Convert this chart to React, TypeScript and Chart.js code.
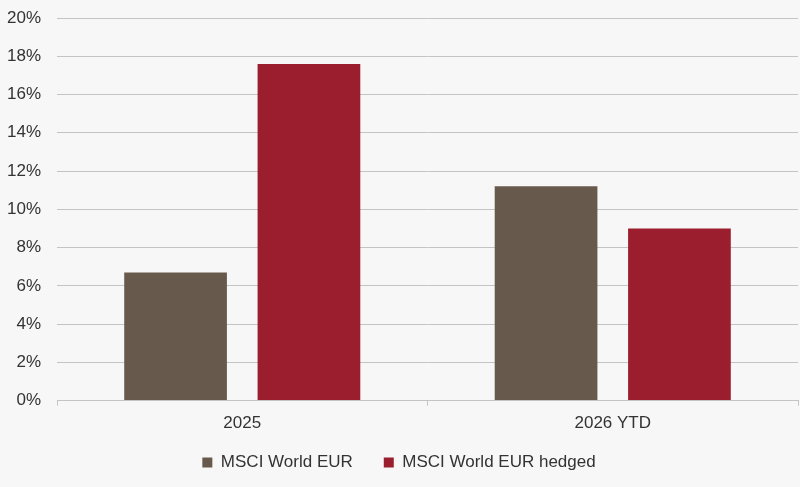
import React, { useEffect, useRef } from "react";
import { Chart, registerables } from "chart.js";

Chart.register(...registerables);

const categories = ["2025", "2026 YTD"];
const worldEur = [6.7, 11.2];
const worldEurHedged = [17.6, 9.0];
const seriesNames = ["MSCI World EUR", "MSCI World EUR hedged"];

const textColor = "#333333";
const gridColor = "#c4c4c4";
const fontFamily = "'Liberation Sans', Arial, sans-serif";
const fontSize = 17;
const legendPadding = 31;

// the legend padding sets the gap between items, but it also pads the box
// vertically; reserve less room and pull the legend back up so the x labels fit
const legendSqueeze = {
  id: "legendSqueeze",
  afterLayout(chart: Chart) {
    const legend = chart.legend;
    if (!legend) return;
    legend.top = legend.bottom - (fontSize + legendPadding + 10);
  },
};

export default function App() {
  const canvasRef = useRef<HTMLCanvasElement | null>(null);
  const chartRef = useRef<Chart | null>(null);

  useEffect(() => {
    document.body.style.margin = "0";
    if (!canvasRef.current) return;

    chartRef.current = new Chart(canvasRef.current, {
      type: "bar",
      data: {
        labels: categories,
        datasets: [
          {
            label: seriesNames[0],
            data: worldEur,
            backgroundColor: "#675a4c",
          },
          {
            label: seriesNames[1],
            data: worldEurHedged,
            backgroundColor: "#9b1e2f",
          },
        ],
      },
      plugins: [legendSqueeze],
      options: {
        animation: false,
        responsive: true,
        maintainAspectRatio: false,
        layout: { padding: { top: 0, left: 0, right: 2, bottom: 6 } },
        datasets: {
          bar: { barPercentage: 0.77, categoryPercentage: 0.72 },
        },
        plugins: {
          tooltip: { enabled: false },
          legend: {
            position: "bottom",
            maxHeight: 39,
            labels: {
              boxWidth: 10,
              boxHeight: 10,
              padding: legendPadding,
              color: textColor,
              font: { family: fontFamily, size: fontSize },
            },
          },
        },
        scales: {
          y: {
            min: 0,
            max: 20,
            afterFit: (scale) => {
              scale.width = 57;
              scale.paddingTop = 18;
            },
            ticks: {
              stepSize: 2,
              padding: 16,
              color: textColor,
              font: { family: fontFamily, size: fontSize },
              callback: (v) => `${v}%`,
            },
            grid: { color: gridColor, drawTicks: false },
            border: { display: false },
          },
          x: {
            ticks: {
              padding: 8,
              color: textColor,
              font: { family: fontFamily, size: fontSize },
            },
            grid: {
              offset: true,
              drawOnChartArea: false,
              drawTicks: true,
              tickLength: 5,
              color: gridColor,
            },
            border: { display: true, color: gridColor },
          },
        },
      },
    });

    return () => {
      chartRef.current?.destroy();
    };
  }, []);

  return (
    <div style={{ width: 800, height: 487, background: "#f7f7f7" }}>
      <canvas ref={canvasRef} />
    </div>
  );
}
